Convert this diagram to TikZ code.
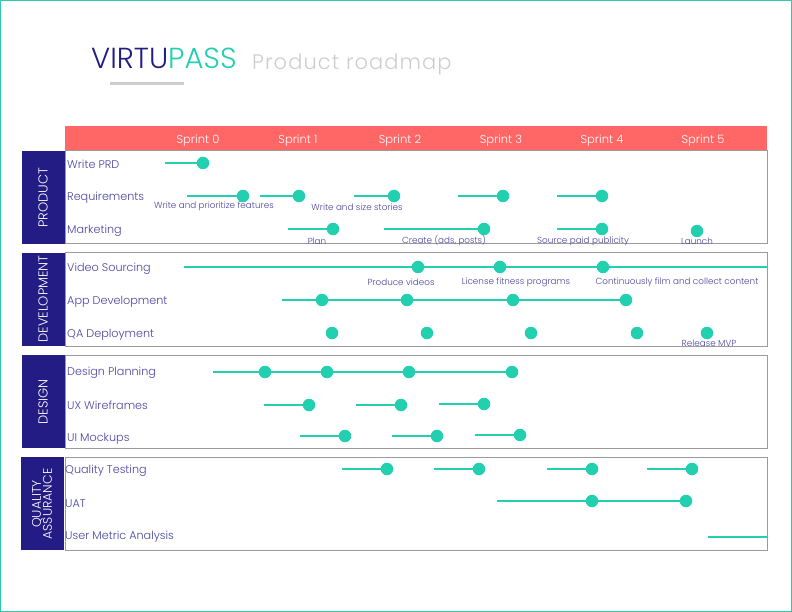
\documentclass[tikz,border=0pt]{standalone}
\usepackage{fontspec}
\setmainfont{Poppins Light}
\usepackage{tikz}
\usetikzlibrary{positioning}
\definecolor{navy}{RGB}{34,28,132}
\definecolor{rowtext}{RGB}{74,68,160}
\definecolor{mint}{RGB}{34,208,176}
\definecolor{coral}{RGB}{255,102,102}
\definecolor{framegray}{RGB}{155,155,155}
\definecolor{titlegray}{RGB}{205,205,205}
\definecolor{pageframe}{RGB}{50,200,170}
\tikzset{
  sidebar/.style={fill=navy},
  lane/.style={draw=framegray, line width=1pt},
  rowlabel/.style={anchor=west, inner sep=0pt, text=rowtext, yshift=-1.5pt,
                   font=\fontsize{11.2}{13}\selectfont},
  sprint/.style={text=white, inner sep=0pt, yshift=-1.5pt,
                 font=\fontsize{11.5}{13}\selectfont},
  section/.style={rotate=90, text=white, align=center, inner sep=0pt,
                  font=\fontsize{13}{12}\selectfont},
  dot/.style={circle, fill=mint, minimum size=12.5pt, inner sep=0pt},
  bar/.style={draw=mint, line width=2.3pt},
  note/.style={inner sep=0pt, text=rowtext, yshift=-1pt,
               font=\fontsize{8.8}{10}\selectfont},
}
% one milestone: name, row y, start x, dot x
\newcommand{\seg}[4]{%
  \coordinate (#1s) at (#3,#2);
  \node[dot] (#1) at (#4,#2) {};
  \draw[bar] (#1s) -- (#1);}

\begin{document}
\begin{tikzpicture}[x=1pt, y=-1pt]
  \useasboundingbox (0,0) rectangle (792,612);
  \draw[pageframe, line width=1.3pt] (0.8,0.8) rectangle (791.2,611.2);

  % Title
  \node[anchor=base west, inner sep=0pt, font=\fontsize{29}{30}\selectfont]
    (brand) at (91,69) {\color{navy}VIRTU\color{mint}PASS};
  \node[anchor=base west, inner sep=0pt, text=titlegray,
        font=\fontsize{21}{24}\selectfont\addfontfeatures{LetterSpace=5}]
    (subtitle) at (252,70) {Product roadmap};
  \fill[titlegray] (110,82) rectangle (184,85);

  % Sprint header
  \fill[coral] (65,126) rectangle (767,151);
  \node[sprint] (s0) at (198,139) {Sprint 0};
  \node[sprint] (s1) at (298,139) {Sprint 1};
  \node[sprint] (s2) at (400,139) {Sprint 2};
  \node[sprint] (s3) at (501,139) {Sprint 3};
  \node[sprint] (s4) at (602,139) {Sprint 4};
  \node[sprint] (s5) at (703,139) {Sprint 5};

  % Sections
  \fill[sidebar] (22,151) rectangle (65,244);
  \fill[sidebar] (22,253) rectangle (65,346);
  \fill[sidebar] (22,355) rectangle (65,448);
  \fill[sidebar] (21,457) rectangle (64,550);
  \draw[lane] (65,151) rectangle (767,244);
  \draw[lane] (65,253) rectangle (767,346);
  \draw[lane] (65,355) rectangle (767,448);
  \draw[lane] (65,457) rectangle (767,550);
  \node[section] (product) at (43,198) {PRODUCT};
  \node[section] (develop) at (43,299) {DEVELOPMENT};
  \node[section] (design)  at (43,402) {DESIGN};
  \node[section, font=\fontsize{12.5}{11}\selectfont] (quality) at (42,504) {QUALITY\\ASSURANCE};

  % Row labels
  \node[rowlabel] (prd)    at (67,163) {Write PRD};
  \node[rowlabel] (req)    at (67,196) {Requirements};
  \node[rowlabel] (mkt)    at (67,229) {Marketing};
  \node[rowlabel] (video)  at (67,267) {Video Sourcing};
  \node[rowlabel] (app)    at (67,300) {App Development};
  \node[rowlabel] (qadep)  at (67,333) {QA Deployment};
  \node[rowlabel] (dplan)  at (67,371) {Design Planning};
  \node[rowlabel] (ux)     at (67,404) {UX Wireframes};
  \node[rowlabel] (ui)     at (67,437) {UI Mockups};
  \node[rowlabel] (qtest)  at (65,469) {Quality Testing};
  \node[rowlabel] (uat)    at (65,502) {UAT};
  \node[rowlabel] (metric) at (65,535) {User Metric Analysis};

  % Product
  \seg{prdA}{163}{165}{203}
  \seg{reqA}{196}{187}{243}
  \seg{reqB}{196}{260}{299}
  \seg{reqC}{196}{354}{394}
  \seg{reqD}{196}{458}{503}
  \seg{reqE}{196}{557}{602}
  \node[note] (reqAn) at (214,205) {Write and prioritize features};
  \node[note] (reqBn) at (357,206) {Write and size stories};
  \seg{mktA}{229}{288}{333}
  \seg{mktB}{229}{384}{484}
  \seg{mktC}{229}{557}{602}
  \node[dot] (mktD) at (697,231) {};
  \node[note] (mktAn) at (317,240) {Plan};
  \node[note] (mktBn) at (444,240) {Create (ads, posts)};
  \node[note] (mktCn) at (583,240) {Source paid publicity};
  \node[note] (mktDn) at (697,240) {Launch};

  % Development
  \coordinate (vidS) at (184,267);
  \coordinate (vidE) at (767,267);
  \node[dot] (vidA) at (418,267) {};
  \node[dot] (vidB) at (500,267) {};
  \node[dot] (vidC) at (603,267) {};
  \draw[bar] (vidS) -- (vidA) -- (vidB) -- (vidC) -- (vidE);
  \node[note] (vidAn) at (401,281) {Produce videos};
  \node[note] (vidBn) at (516,281) {License fitness programs};
  \node[note] (vidCn) at (677,281) {Continuously film and collect content};
  \coordinate (appS) at (282,300);
  \node[dot] (appA) at (322,300) {};
  \node[dot] (appB) at (407,300) {};
  \node[dot] (appC) at (513,300) {};
  \node[dot] (appD) at (626,300) {};
  \draw[bar] (appS) -- (appA) -- (appB) -- (appC) -- (appD);
  \node[dot] (qaA) at (332,333) {};
  \node[dot] (qaB) at (427,333) {};
  \node[dot] (qaC) at (531,333) {};
  \node[dot] (qaD) at (637,333) {};
  \node[dot] (qaE) at (707,333) {};
  \node[note] (qaEn) at (709,342) {Release MVP};

  % Design
  \coordinate (dpS) at (213,372);
  \node[dot] (dpA) at (265,372) {};
  \node[dot] (dpB) at (327,372) {};
  \node[dot] (dpC) at (409,372) {};
  \node[dot] (dpD) at (512,372) {};
  \draw[bar] (dpS) -- (dpA) -- (dpB) -- (dpC) -- (dpD);
  \seg{uxA}{405}{264}{309}
  \seg{uxB}{405}{356}{401}
  \seg{uxC}{404}{439}{484}
  \seg{uiA}{436}{300}{345}
  \seg{uiB}{436}{392}{437}
  \seg{uiC}{435}{475}{520}

  % Quality assurance
  \seg{qtA}{469}{342}{387}
  \seg{qtB}{469}{434}{479}
  \seg{qtC}{469}{547}{592}
  \seg{qtD}{469}{647}{692}
  \coordinate (uatS) at (497,501);
  \node[dot] (uatA) at (592,501) {};
  \node[dot] (uatB) at (686,501) {};
  \draw[bar] (uatS) -- (uatA) -- (uatB);
  \coordinate (metS) at (708,537);
  \coordinate (metE) at (767,537);
  \draw[bar] (metS) -- (metE);
\end{tikzpicture}
\end{document}
